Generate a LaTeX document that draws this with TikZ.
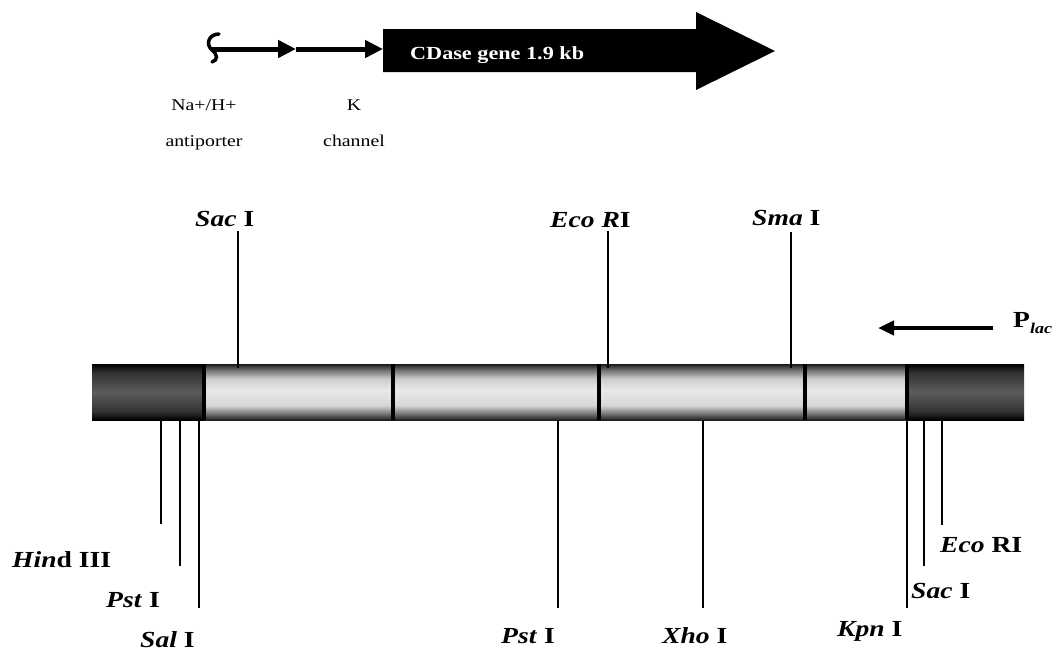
\documentclass[tikz,border=0pt]{standalone}
\usepackage{fontspec}
\setmainfont[FakeStretch=1.2]{Liberation Serif}
\usetikzlibrary{arrows.meta}
\pgfdeclareverticalshading{lightseg}{100bp}{color(0bp)=(black!88); color(25bp)=(black!88); color(30bp)=(black!58); color(38bp)=(black!16); color(52bp)=(black!9); color(62bp)=(black!20); color(70bp)=(black!58); color(75bp)=(black!90); color(100bp)=(black!90)}
\pgfdeclareverticalshading{darkseg}{100bp}{color(0bp)=(black); color(25bp)=(black); color(33bp)=(black!80); color(50bp)=(black!64); color(67bp)=(black!80); color(75bp)=(black); color(100bp)=(black)}
\tikzset{
  sitelabel/.style={inner sep=0pt, font=\fontsize{23}{27}\selectfont\bfseries},
  smalllabel/.style={inner sep=0pt, font=\fontsize{16.5}{20}\selectfont},
  siteline/.style={line width=1.5pt},
  divider/.style={line width=4.5pt},
  genearrow/.style={line width=5pt, -{Triangle[length=18pt,width=17pt]}},
  promarrow/.style={line width=4pt, -{Triangle[length=16pt,width=14pt]}}
}
\begin{document}
\begin{tikzpicture}[x=1pt,y=-1pt]
\useasboundingbox (0,0) rectangle (1060,657);
\fill[white] (0,0) rectangle (1060,657);

% ---- gene map at top ----
\draw[line width=3.5pt, line cap=round] (219,34) .. controls (209,34) and (205,44) .. (212,50) .. controls (218,55) and (218,60) .. (212,62);
\coordinate (term) at (212,49);
\coordinate (kch) at (296,49);
\coordinate (gene) at (383,49);
\fill[black] (383,29) -- (696,29) -- (696,12) -- (775,51) -- (696,90) -- (696,72) -- (383,72) -- cycle;
\draw[genearrow] (term) -- (kch);
\draw[genearrow] (kch) -- (gene);
\node[anchor=base west, inner sep=0pt, text=white, font=\fontsize{18.5}{22}\selectfont\bfseries] (cdase) at (410,59) {CDase gene 1.9 kb};
\node[smalllabel, anchor=base] (na) at (204,110) {Na+/H+};
\node[smalllabel, anchor=base] (anti) at (204,146) {antiporter};
\node[smalllabel, anchor=base] (kk) at (354,110) {K};
\node[smalllabel, anchor=base] (chan) at (354,146) {channel};

% ---- bar ----
\shade[shading=darkseg] (92,364) rectangle (204,420);
\shade[shading=lightseg] (204,364) rectangle (393,420);
\shade[shading=lightseg] (393,364) rectangle (599,420);
\shade[shading=lightseg] (599,364) rectangle (805,420);
\shade[shading=lightseg] (805,364) rectangle (907,420);
\shade[shading=darkseg] (907,364) rectangle (1024,420);
\foreach \x in {204,393,599,805,907} \draw[divider] (\x,364) -- (\x,420);

% ---- promoter ----
\coordinate (pstart) at (993,328);
\coordinate (pend) at (878,328);
\draw[promarrow] (pstart) -- (pend);
\node[anchor=base west, inner sep=0pt, font=\fontsize{23}{27}\selectfont\bfseries] (plac) at (1013,327) {P\raisebox{-0.28em}{\fontsize{15}{17}\selectfont\textit{lac}}};

% ---- top sites ----
\node[sitelabel, anchor=base west] (sacT) at (195,226) {\textit{Sac} I};
\node[sitelabel, anchor=base west] (ecoT) at (550,227) {\textit{Eco R}I};
\node[sitelabel, anchor=base west] (smaT) at (752,225) {\textit{Sma} I};
\coordinate (sacTa) at (238,231); \coordinate (sacTb) at (238,368);
\coordinate (ecoTa) at (608,231); \coordinate (ecoTb) at (608,368);
\coordinate (smaTa) at (791,232); \coordinate (smaTb) at (791,368);
\draw[siteline] (sacTa) -- (sacTb);
\draw[siteline] (ecoTa) -- (ecoTb);
\draw[siteline] (smaTa) -- (smaTb);

% ---- bottom sites ----
\node[sitelabel, anchor=base west] (hind) at (12,567) {\textit{Hin}d III};
\node[sitelabel, anchor=base west] (pstL) at (106,607) {\textit{Pst} I};
\node[sitelabel, anchor=base west] (sal) at (140,647) {\textit{Sal} I};
\node[sitelabel, anchor=base west] (pstM) at (501,643) {\textit{Pst} I};
\node[sitelabel, anchor=base west] (xho) at (662,643) {\textit{Xho} I};
\node[sitelabel, anchor=base west] (kpn) at (837,636) {\textit{Kpn} I};
\node[sitelabel, anchor=base west] (sacB) at (911,598) {\textit{Sac} I};
\node[sitelabel, anchor=base west] (ecoB) at (940,552) {\textit{Eco} RI};
\coordinate (hindA) at (161,420); \coordinate (hindB) at (161,524);
\coordinate (pstLA) at (180,420); \coordinate (pstLB) at (180,566);
\coordinate (salA) at (199,420); \coordinate (salB) at (199,608);
\coordinate (pstMA) at (558,420); \coordinate (pstMB) at (558,608);
\coordinate (xhoA) at (703,420); \coordinate (xhoB) at (703,608);
\coordinate (kpnA) at (907,420); \coordinate (kpnB) at (907,608);
\coordinate (sacBA) at (924,420); \coordinate (sacBB) at (924,566);
\coordinate (ecoBA) at (942,420); \coordinate (ecoBB) at (942,525);
\draw[siteline] (hindA) -- (hindB);
\draw[siteline] (pstLA) -- (pstLB);
\draw[siteline] (salA) -- (salB);
\draw[siteline] (pstMA) -- (pstMB);
\draw[siteline] (xhoA) -- (xhoB);
\draw[siteline] (kpnA) -- (kpnB);
\draw[siteline] (sacBA) -- (sacBB);
\draw[siteline] (ecoBA) -- (ecoBB);
\end{tikzpicture}
\end{document}
